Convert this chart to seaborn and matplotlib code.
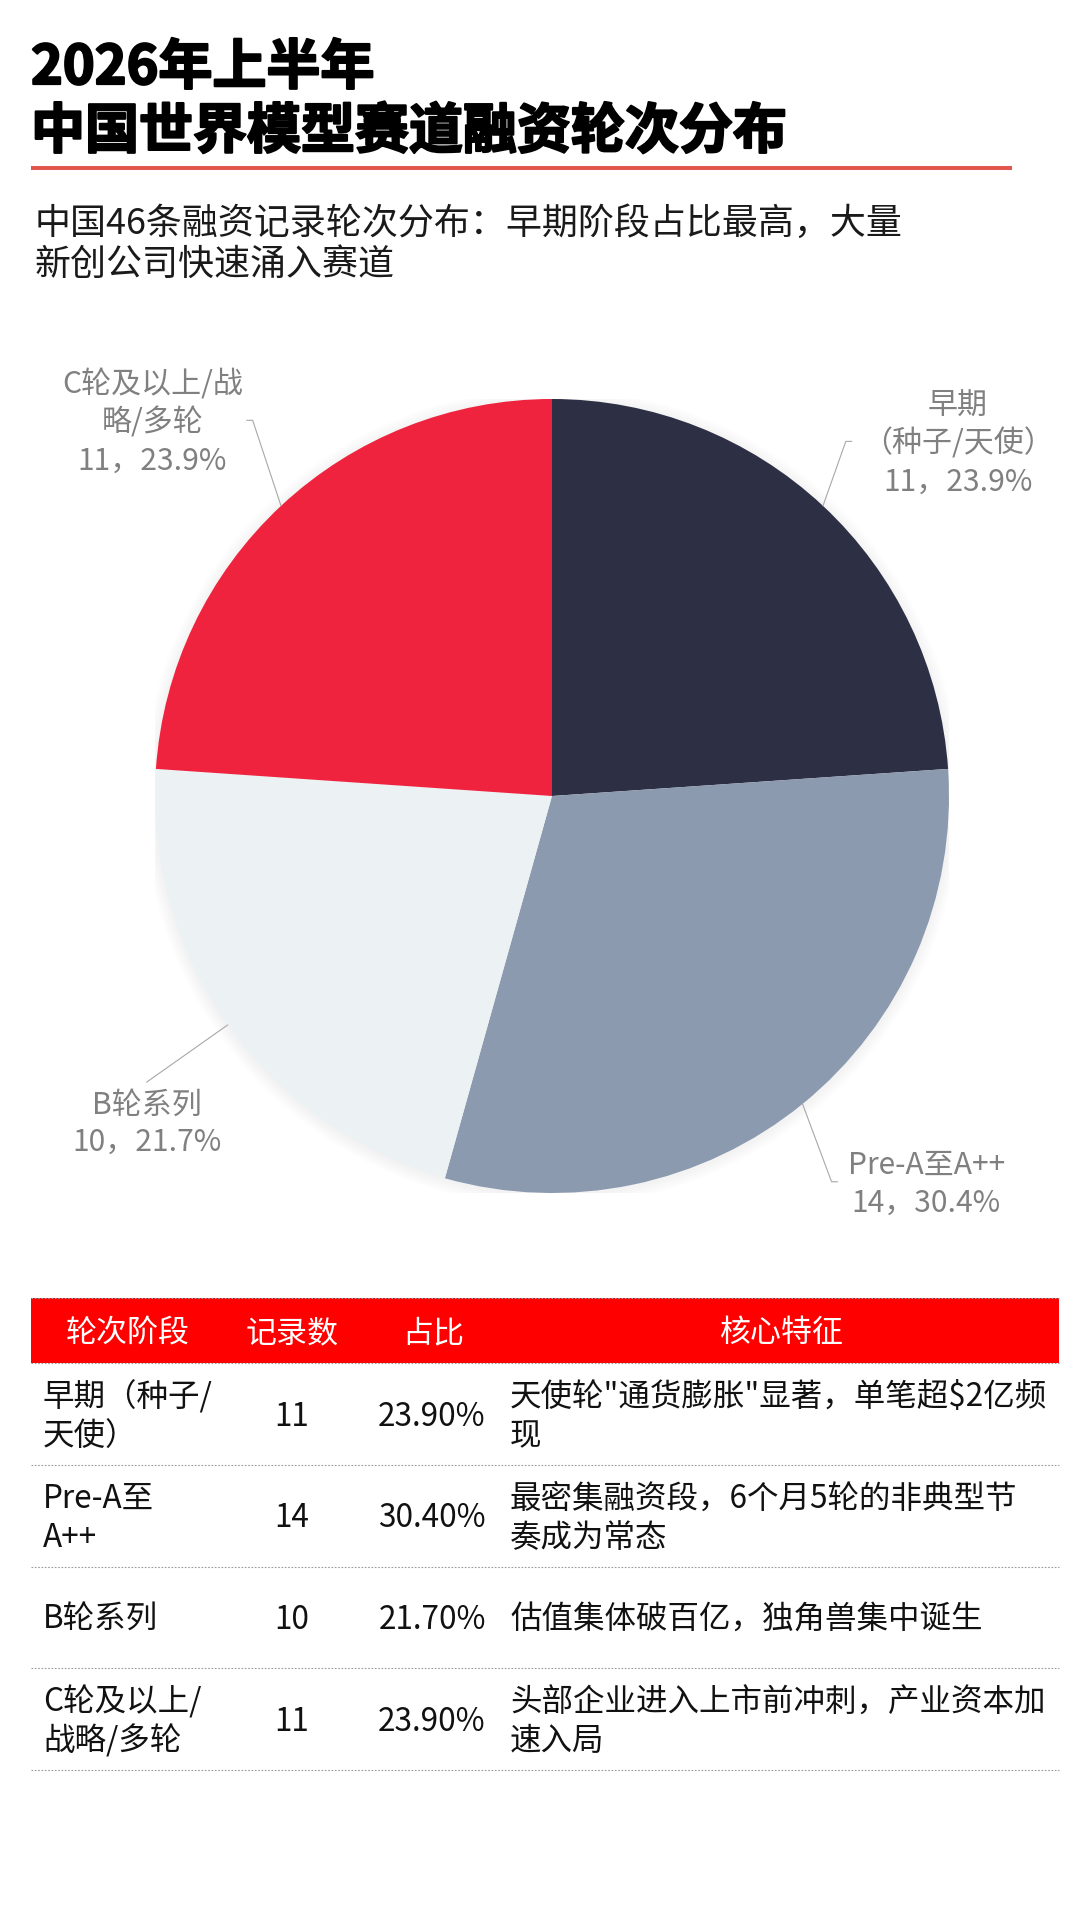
import math
import matplotlib
matplotlib.use('Agg')
import matplotlib.pyplot as plt
import matplotlib.patheffects as pe
import seaborn as sns
from matplotlib.patches import Rectangle, Circle

# ---------------- data ----------------
title_lines = ['2026年上半年', '中国世界模型赛道融资轮次分布']
subtitle_lines = ['中国46条融资记录轮次分布：早期阶段占比最高，大量', '新创公司快速涌入赛道']

categories = ['早期（种子/天使）', 'Pre-A至A++', 'B轮系列', 'C轮及以上/战略/多轮']
counts = [11, 14, 10, 11]
shares = [23.9, 30.4, 21.7, 23.9]
colors = ['#2d2f45', '#8c9ab0', '#ecf1f4', '#ef233e']
pie_label_lines = [['早期', '（种子/天使）'], ['Pre-A至A++'], ['B轮系列'], ['C轮及以上/战', '略/多轮']]

table_headers = ['轮次阶段', '记录数', '占比', '核心特征']
table_stage_lines = [['早期（种子/', '天使）'], ['Pre-A至', 'A++'], ['B轮系列'], ['C轮及以上/', '战略/多轮']]
table_features = [['天使轮"通货膨胀"显著，单笔超$2亿频', '现'],
                  ['最密集融资段，6个月5轮的非典型节', '奏成为常态'],
                  ['估值集体破百亿，独角兽集中诞生'],
                  ['头部企业进入上市前冲刺，产业资本加', '速入局']]

# ---------------- style ----------------
sns.set_theme(style='white')
plt.rcParams['font.family'] = ['Noto Sans CJK SC', 'DejaVu Sans']
palette = sns.color_palette(colors)

W, H = 1080, 1920
PX = 0.72  # points per pixel at dpi 100
fig = plt.figure(figsize=(W / 100, H / 100), dpi=100, facecolor='white')
bg = fig.add_axes([0, 0, 1, 1])
bg.set_xlim(0, W)
bg.set_ylim(H, 0)
bg.axis('off')


def put_lines(x, cy, lines, size_px, gap, ha, color, weight='normal'):
    n = len(lines)
    arts = []
    for i, line in enumerate(lines):
        yc = cy + (i - (n - 1) / 2) * gap
        arts.append(bg.text(x, yc + 0.37 * size_px, line, ha=ha, va='baseline',
                            fontsize=size_px * PX, color=color, fontweight=weight))
    return arts


# ---------------- title ----------------
heavy = [pe.withStroke(linewidth=1.6, foreground='#000000')]
bg.text(31, 84, title_lines[0], fontsize=54 * PX, fontweight='black', color='#000000',
        va='baseline', path_effects=heavy)
bg.text(31, 148, title_lines[1], fontsize=54 * PX, fontweight='black', color='#000000',
        va='baseline', path_effects=heavy)
bg.plot([31, 1012], [168, 168], color='#e2574c', lw=2.9, solid_capstyle='butt')
bg.text(35, 234, subtitle_lines[0], fontsize=36 * PX, fontweight='medium', color='#1a1a1a', va='baseline')
bg.text(35, 275, subtitle_lines[1], fontsize=36 * PX, fontweight='medium', color='#1a1a1a', va='baseline')

# ---------------- pie ----------------
cx, cy, R = 552, 796, 397
axp = fig.add_axes([(cx - R) / W, (H - cy - R) / H, 2 * R / W, 2 * R / H])
for k in range(6):
    axp.add_patch(Circle((0, -0.004), 1.0 + 0.005 * (k + 1), color='#000000', alpha=0.007, lw=0, zorder=0))
wedges, _ = axp.pie(counts, colors=palette, startangle=90, counterclock=False,
                    wedgeprops=dict(linewidth=0, edgecolor='none'))
axp.set_xlim(-1, 1)
axp.set_ylim(-1, 1)
axp.set_aspect('equal')
axp.axis('off')

bend_r = [1.16, 1.20, 1.25, 1.21]
bend_shift = [3.4, -3.2, 0.0, -4.5]
sides = ['right', 'right', 'below', 'left']
seg = 6 / R

renderer = fig.canvas.get_renderer()
lab_size = 30
lab_gap = 38
for i, w in enumerate(wedges):
    mid = (w.theta1 + w.theta2) / 2
    a0 = math.radians(mid)
    a1 = math.radians(mid + bend_shift[i])
    p0 = (math.cos(a0), math.sin(a0))
    p1 = (bend_r[i] * math.cos(a1), bend_r[i] * math.sin(a1))
    if sides[i] == 'right':
        p2 = (p1[0] + seg, p1[1])
    elif sides[i] == 'left':
        p2 = (p1[0] - seg, p1[1])
    else:
        p2 = p1
    axp.plot([p0[0], p1[0], p2[0]], [p0[1], p1[1], p2[1]], color='#a8a8a8', lw=0.8,
             clip_on=False, zorder=5)
    disp = axp.transData.transform(p2)
    ex, ey = bg.transData.inverted().transform(disp)
    lines = pie_label_lines[i] + [f'{counts[i]}，{shares[i]:.1f}%']
    if sides[i] == 'below':
        n = len(lines)
        cyb = ey + 20 + (n - 1) / 2 * lab_gap
        put_lines(ex, cyb, lines, lab_size, lab_gap, 'center', '#808080')
    else:
        arts = put_lines(0, ey, lines, lab_size, lab_gap, 'center', '#808080')
        wmax = max(a.get_window_extent(renderer).width for a in arts)
        if sides[i] == 'right':
            xc = ex + 10 + wmax / 2
        else:
            xc = ex - 4 - wmax / 2
        for a in arts:
            a.set_x(xc)

# ---------------- table ----------------
x0, x1 = 31, 1059
h_top, h_bot = 1298, 1363
row_h = 101.75
bg.add_patch(Rectangle((x0, h_top), x1 - x0, h_bot - h_top, color='#ff0000', lw=0, zorder=1))
head_x = [128, 292, 433, 781]
for hx, htxt in zip(head_x, table_headers):
    put_lines(hx, (h_top + h_bot) / 2, [htxt], 31, 0, 'center', 'white', 'medium')

sep_y = [h_top, h_bot] + [h_bot + row_h * (k + 1) for k in range(len(categories))]
for yy in sep_y:
    bg.plot([x0, x1], [yy, yy], color='#9a9a9a', lw=0.8, ls=(0, (1.5, 1.5)), zorder=2)

tsize, tgap = 31.5, 39
for k in range(len(categories)):
    yc = h_bot + row_h * (k + 0.5)
    put_lines(43, yc, table_stage_lines[k], tsize, tgap, 'left', '#111111')
    put_lines(292, yc, [str(counts[k])], tsize, tgap, 'center', '#111111')
    put_lines(432, yc, [f'{shares[k]:.2f}%'], tsize, tgap, 'center', '#111111')
    put_lines(510, yc, table_features[k], tsize, tgap, 'left', '#111111')

fig.savefig('out.png', dpi=100, facecolor='white')
